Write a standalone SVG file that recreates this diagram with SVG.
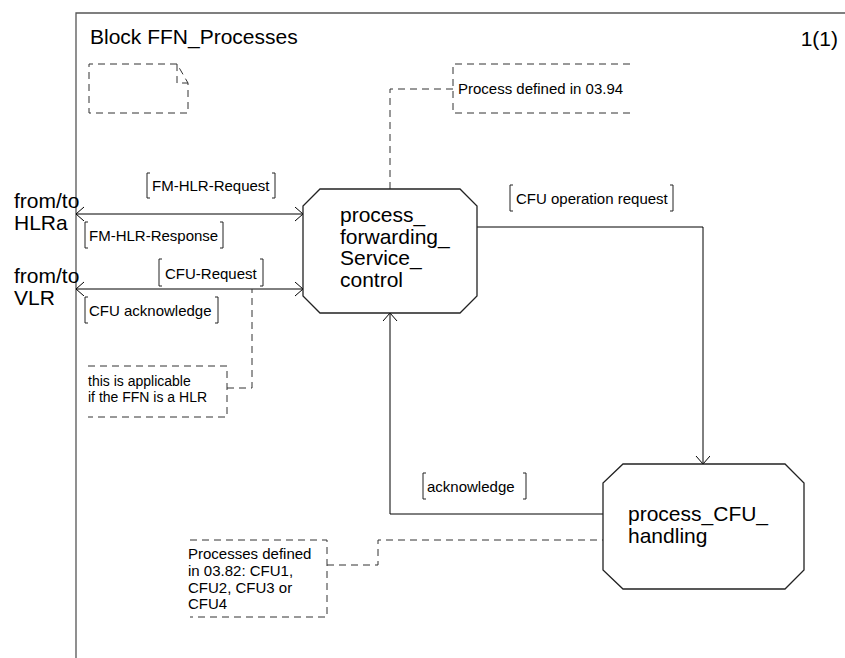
<svg xmlns="http://www.w3.org/2000/svg" width="845" height="658" viewBox="0 0 845 658">
<style>
text{font-family:"Liberation Sans",Arial,sans-serif;fill:#000}
.big{font-size:21px}
.sm{font-size:15px}
.cm{font-size:14px}
.ln{fill:none;stroke:#000;stroke-width:1}
.dash{fill:none;stroke:#333;stroke-width:1;stroke-dasharray:7 5}
.node{fill:#fff;stroke:#222;stroke-width:1.3}
.frame{fill:none;stroke:#555;stroke-width:1.3}
.br{fill:none;stroke:#222;stroke-width:1}
</style>
<defs>
<marker id="arr" markerUnits="userSpaceOnUse" markerWidth="10" markerHeight="16" refX="8" refY="7" orient="auto-start-reverse">
<path d="M0,0 L8,7 L0,14" fill="none" stroke="#000" stroke-width="1"/>
</marker>
</defs>
<rect width="845" height="658" fill="#fff"/>
<g id="frame">
<path class="frame" d="M76,658 V13 H845"/>
<text class="big" x="90" y="44">Block FFN_Processes</text>
<text class="big" x="838" y="46" text-anchor="end">1(1)</text>
</g>
<g id="text-symbol">
<path class="dash" d="M177,64 H89 V113 H188 V83 L177,64 V83 H188"/>
</g>
<g id="env-labels">
<text class="big" x="14" y="208">from/to</text>
<text class="big" x="14" y="230">HLRa</text>
<text class="big" x="14" y="283">from/to</text>
<text class="big" x="14" y="305">VLR</text>
</g>
<g id="connectors">
<line class="ln" x1="76" y1="214" x2="303" y2="214" marker-start="url(#arr)" marker-end="url(#arr)"/>
<line class="ln" x1="76" y1="289" x2="303" y2="289" marker-start="url(#arr)" marker-end="url(#arr)"/>
<polyline class="ln" points="477,227 703,227 703,464" marker-end="url(#arr)"/>
<polyline class="ln" points="603,514 390,514 390,313" marker-end="url(#arr)"/>
<path class="dash" d="M453,89 H390 V189"/>
<path class="dash" d="M227,388 H252 V289"/>
<path class="dash" d="M327,565 H378 V540 H603"/>
</g>
<g id="signal-labels">
<path class="br" d="M150,173 H147 V198 H150 M272,173 H275 V198 H272"/>
<text class="sm" x="152" y="191">FM-HLR-Request</text>
<path class="br" d="M88,222 H85 V248 H88 M220,222 H223 V248 H220"/>
<text class="sm" x="89" y="241">FM-HLR-Response</text>
<path class="br" d="M162,259 H159 V286 H162 M260,259 H263 V286 H260"/>
<text class="sm" x="165" y="279">CFU-Request</text>
<path class="br" d="M88,297 H85 V323 H88 M215,297 H218 V323 H215"/>
<text class="sm" x="89" y="316">CFU acknowledge</text>
<path class="br" d="M513,185 H510 V211 H513 M670,185 H673 V211 H670"/>
<text class="sm" x="516" y="204">CFU operation request</text>
<path class="br" d="M426,473 H423 V499 H426 M523,473 H526 V499 H523"/>
<text class="sm" x="427" y="492">acknowledge</text>
</g>
<g id="comment-0394">
<path class="dash" d="M630,64 H453 V113 H630"/>
<text class="sm" x="458" y="94">Process defined in 03.94</text>
</g>
<g id="comment-hlr">
<path class="dash" d="M88,366 H227 V417 H88"/>
<text class="cm" x="88" y="386">this is applicable</text>
<text class="cm" x="88" y="402">if the FFN is a HLR</text>
</g>
<g id="comment-0382">
<path class="dash" d="M190,540 H327 V617 H190"/>
<text class="sm" x="188" y="559">Processes defined</text>
<text class="sm" x="188" y="576">in 03.82: CFU1,</text>
<text class="sm" x="188" y="593">CFU2, CFU3 or</text>
<text class="sm" x="188" y="609">CFU4</text>
</g>
<g id="process-forwarding">
<polygon class="node" points="320,189 460,189 477,206 477,296 460,313 320,313 303,296 303,206"/>
<text class="big" x="340" y="222">process_</text>
<text class="big" x="340" y="243.5">forwarding_</text>
<text class="big" x="340" y="265">Service_</text>
<text class="big" x="340" y="286.5">control</text>
</g>
<g id="process-cfu">
<polygon class="node" points="623,464 785,464 804,483 804,570 785,589 623,589 603,570 603,483"/>
<text class="big" x="628" y="521">process_CFU_</text>
<text class="big" x="628" y="543">handling</text>
</g>
</svg>
